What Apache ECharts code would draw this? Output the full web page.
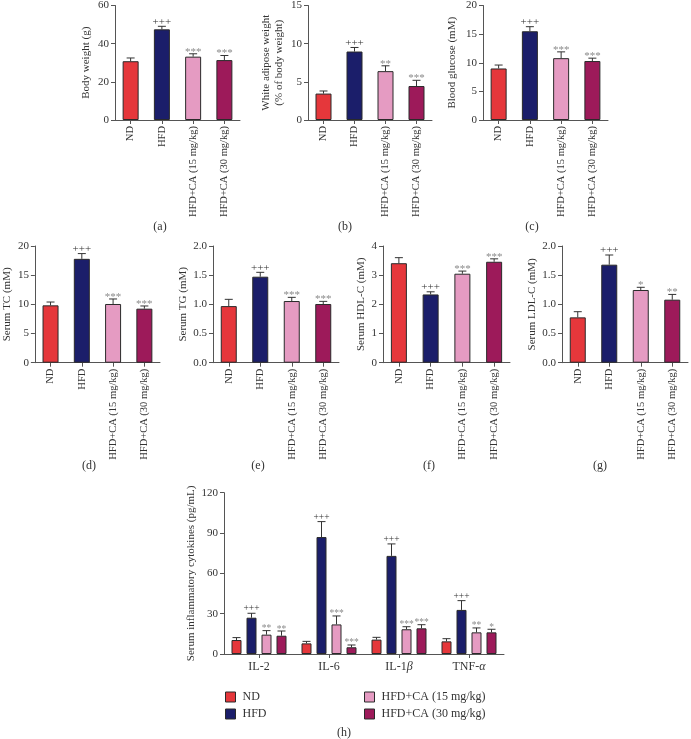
<!DOCTYPE html>
<html><head><meta charset="utf-8">
<script src="https://cdn.jsdelivr.net/npm/echarts@6/dist/echarts.min.js"></script>
<style>html,body{margin:0;padding:0;background:#fff}#c{width:691px;height:739px}</style>
</head><body><div id="c"></div><script>
// ---------- DATA ----------
const groups = ['ND', 'HFD', 'HFD+CA (15 mg/kg)', 'HFD+CA (30 mg/kg)'];

const bodyWeightMean = [30.8, 47.5, 33.2, 31.4];
const bodyWeightSem  = [1.7, 1.6, 1.5, 2.4];
const bodyWeightSig  = ['', '+++', '***', '***'];

const adiposeMean = [3.46, 8.97, 6.4, 4.45];
const adiposeSem  = [0.34, 0.53, 0.7, 0.75];
const adiposeSig  = ['', '+++', '**', '***'];

const glucoseMean = [9.0, 15.5, 10.8, 10.3];
const glucoseSem  = [0.6, 0.8, 1.1, 0.5];
const glucoseSig  = ['', '+++', '***', '***'];

const tcMean = [9.83, 17.8, 10.06, 9.26];
const tcSem  = [0.57, 0.9, 0.86, 0.46];
const tcSig  = ['', '+++', '***', '***'];

const tgMean = [0.97, 1.474, 1.057, 1.006];
const tgSem  = [0.116, 0.075, 0.063, 0.045];
const tgSig  = ['', '+++', '***', '***'];

const hdlMean = [3.41, 2.34, 3.05, 3.46];
const hdlSem  = [0.19, 0.09, 0.09, 0.1];
const hdlSig  = ['', '+++', '***', '***'];

const ldlMean = [0.777, 1.68, 1.246, 1.08];
const ldlSem  = [0.097, 0.166, 0.046, 0.09];
const ldlSig  = ['', '+++', '*', '**'];

const cytokines = ['IL-2', 'IL-6', 'IL-1β', 'TNF-α'];
const cytoNdMean   = [10.4, 7.9, 10.7, 9.4];
const cytoNdSem    = [1.8, 1.5, 1.7, 2.0];
const cytoNdSig    = ['', '', '', ''];
const cytoHfdMean  = [27, 87, 73, 32.8];
const cytoHfdSem   = [3.3, 11.5, 8.9, 6.9];
const cytoHfdSig   = ['+++', '+++', '+++', '+++'];
const cyto15Mean   = [14.4, 22, 18.4, 16.1];
const cyto15Sem    = [3.0, 6.3, 1.9, 3.3];
const cyto15Sig    = ['**', '***', '***', '**'];
const cyto30Mean   = [13.6, 5.0, 19.1, 16.1];
const cyto30Sem    = [3.5, 1.7, 2.7, 2.3];
const cyto30Sig    = ['**', '***', '***', '*'];

// ---------- STYLE ----------
const FONT = 'Liberation Serif';
const TXT = '#333';
const AX = '#555';
const COLORS = ['#e5373b', '#1b1e6a', '#e59bc2', '#9d1a5a'];

const panels = [
  {name: 'Body weight (g)', mean: bodyWeightMean, sem: bodyWeightSem, sig: bodyWeightSig, max: 60, interval: 20, dec: 0,
   grid: {left: 115, top: 3, width: 125, height: 117}, nameGap: 22, lab: '(a)', lx: 160, ly: 227},
  {name: 'White adipose weight\n(% of body weight)', mean: adiposeMean, sem: adiposeSem, sig: adiposeSig, max: 15, interval: 5, dec: 0,
   grid: {left: 308, top: 3, width: 124, height: 117}, nameGap: 22, lab: '(b)', lx: 345, ly: 227},
  {name: 'Blood glucose (mM)', mean: glucoseMean, sem: glucoseSem, sig: glucoseSig, max: 20, interval: 5, dec: 0,
   grid: {left: 483, top: 3, width: 125, height: 117}, nameGap: 24, lab: '(c)', lx: 532, ly: 227},
  {name: 'Serum TC (mM)', mean: tcMean, sem: tcSem, sig: tcSig, max: 20, interval: 5, dec: 0,
   grid: {left: 34, top: 246, width: 126, height: 116.7}, nameGap: 18, lab: '(d)', lx: 89, ly: 466},
  {name: 'Serum TG (mM)', mean: tgMean, sem: tgSem, sig: tgSig, max: 2, interval: 0.5, dec: 1,
   grid: {left: 213, top: 246, width: 126, height: 116.7}, nameGap: 23, lab: '(e)', lx: 258, ly: 466},
  {name: 'Serum HDL-C (mM)', mean: hdlMean, sem: hdlSem, sig: hdlSig, max: 4, interval: 1, dec: 0,
   grid: {left: 383, top: 246, width: 127, height: 116.7}, nameGap: 14, lab: '(f)', lx: 429, ly: 466},
  {name: 'Serum LDL-C (mM)', mean: ldlMean, sem: ldlSem, sig: ldlSig, max: 2, interval: 0.5, dec: 1,
   grid: {left: 562, top: 246, width: 126, height: 116.7}, nameGap: 21, lab: '(g)', lx: 600, ly: 466}
];

function errRender(meanArr, semArr, sigArr, offset, fs) {
  return function (params, api) {
    const i = api.value(0);
    const m = meanArr[i], s = semArr[i];
    const base = api.coord([i, m]);
    const top = api.coord([i, m + s]);
    const x = base[0] + offset;
    const cap = 4;
    const children = [
      {type: 'line', shape: {x1: x, y1: base[1], x2: x, y2: top[1]}, style: {stroke: '#333', lineWidth: 1}},
      {type: 'line', shape: {x1: x - cap, y1: top[1], x2: x + cap, y2: top[1]}, style: {stroke: '#333', lineWidth: 1}}
    ];
    const t = sigArr[i];
    if (t) {
      const plus = t[0] === '+';
      children.push({type: 'text', style: {
        text: t, x: x, y: top[1] - (plus ? 4.5 : 2), align: 'center', verticalAlign: 'middle',
        fill: plus ? '#333' : '#8a8a8a', font: fs + 'px ' + FONT
      }});
    }
    return {type: 'group', children: children};
  };
}

const grids = [], xAxes = [], yAxes = [], series = [], graphics = [];

function yAxisCommon(gi, max, interval, dec, name, nameGap) {
  return {
    type: 'value', gridIndex: gi, min: 0, max: max, interval: interval,
    name: name, nameLocation: 'middle', nameGap: nameGap, nameRotate: 90,
    nameTextStyle: {fontFamily: FONT, fontSize: 11, color: TXT, lineHeight: 13},
    axisLine: {show: true, lineStyle: {color: AX, width: 1}},
    axisTick: {show: true, inside: false, length: 4, lineStyle: {color: AX}},
    axisLabel: {fontFamily: FONT, fontSize: 11, color: TXT, margin: 6,
      formatter: v => v.toFixed(dec)},
    splitLine: {show: false}
  };
}

panels.forEach((p, gi) => {
  grids.push(Object.assign({containLabel: false}, p.grid));
  xAxes.push({
    type: 'category', gridIndex: gi, data: groups,
    axisLine: {show: true, lineStyle: {color: AX, width: 1}},
    axisTick: {show: true, alignWithLabel: true, length: 4, lineStyle: {color: AX}},
    axisLabel: {rotate: 90, fontFamily: FONT, fontSize: 10.5, color: TXT, margin: 6, interval: 0}
  });
  yAxes.push(yAxisCommon(gi, p.max, p.interval, p.dec, p.name, p.nameGap));
  series.push({
    type: 'bar', name: 'bar' + gi, xAxisIndex: gi, yAxisIndex: gi, barWidth: 16,
    data: p.mean.map((v, i) => ({value: v, itemStyle: {color: COLORS[i]}})),
    itemStyle: {borderColor: '#2a2a2a', borderWidth: 1}, silent: true
  });
  series.push({
    type: 'custom', name: 'err' + gi, xAxisIndex: gi, yAxisIndex: gi,
    data: p.mean.map((v, i) => [i, v + p.sem[i]]), encode: {x: 0, y: 1},
    renderItem: errRender(p.mean, p.sem, p.sig, 0, 11), silent: true, z: 3
  });
  graphics.push({type: 'text', x: p.lx, y: p.ly, style: {text: p.lab, font: '12px ' + FONT, fill: TXT, align: 'center', verticalAlign: 'middle'}});
});

// panel h
const hi = panels.length;
grids.push({left: 224, top: 492.7, width: 280, height: 161.3, containLabel: false});
xAxes.push({
  type: 'category', gridIndex: hi, data: cytokines,
  axisLine: {show: true, lineStyle: {color: AX, width: 1}},
  axisTick: {show: true, alignWithLabel: true, length: 4, lineStyle: {color: AX}},
  axisLabel: {fontFamily: FONT, fontSize: 12, color: TXT, margin: 7, interval: 0,
    formatter: v => v.replace('β', '{i|β}').replace('α', '{i|α}'),
    rich: {i: {fontFamily: FONT, fontStyle: 'italic', fontSize: 12, color: TXT}}}
});
yAxes.push(yAxisCommon(hi, 120, 30, 0, 'Serum inflammatory cytokines (pg/mL)', 24));

const hGroups = [
  {mean: cytoNdMean, sem: cytoNdSem, sig: cytoNdSig},
  {mean: cytoHfdMean, sem: cytoHfdSem, sig: cytoHfdSig},
  {mean: cyto15Mean, sem: cyto15Sem, sig: cyto15Sig},
  {mean: cyto30Mean, sem: cyto30Sem, sig: cyto30Sig}
];
hGroups.forEach((g, k) => {
  series.push({
    type: 'bar', name: groups[k], xAxisIndex: hi, yAxisIndex: hi, barWidth: 10, barGap: '50%',
    data: g.mean, itemStyle: {color: COLORS[k], borderColor: '#2a2a2a', borderWidth: 1}, silent: true
  });
});
hGroups.forEach((g, k) => {
  series.push({
    type: 'custom', name: 'herr' + k, xAxisIndex: hi, yAxisIndex: hi,
    data: g.mean.map((v, i) => [i, v + g.sem[i]]), encode: {x: 0, y: 1},
    renderItem: errRender(g.mean, g.sem, g.sig, (k - 1.5) * 15, 9.5), silent: true, z: 3
  });
});
graphics.push({type: 'text', x: 344, y: 733, style: {text: '(h)', font: '12px ' + FONT, fill: TXT, align: 'center', verticalAlign: 'middle'}});

const legendCommon = {
  orient: 'vertical', icon: 'rect', itemWidth: 10, itemHeight: 10, itemGap: 5,
  textStyle: {fontFamily: FONT, fontSize: 12, color: TXT, padding: [0, 0, 0, 2]},
  itemStyle: {borderColor: '#2a2a2a', borderWidth: 1}, selectedMode: false, padding: 0
};

const option = {
  animation: false,
  backgroundColor: '#fff',
  grid: grids, xAxis: xAxes, yAxis: yAxes, series: series,
  legend: [
    Object.assign({left: 225, top: 691, data: [groups[0], groups[1]]}, legendCommon),
    Object.assign({left: 364, top: 691, data: [groups[2], groups[3]]}, legendCommon)
  ],
  graphic: graphics
};

const chart = echarts.init(document.getElementById('c'), null, {renderer: 'canvas'});
chart.setOption(option);
</script></body></html>
